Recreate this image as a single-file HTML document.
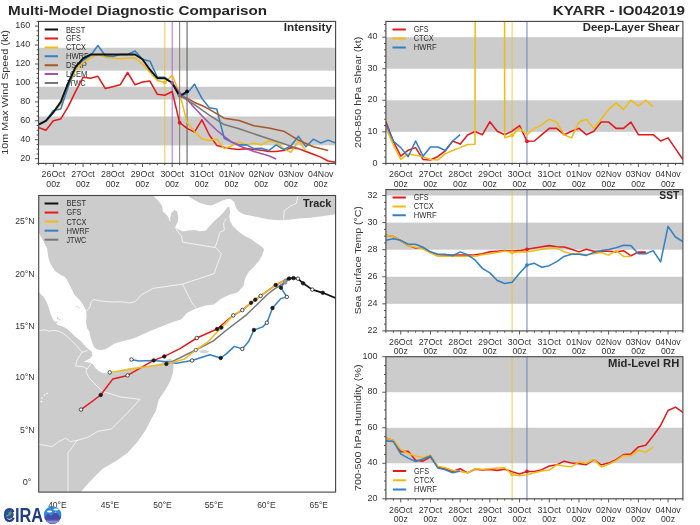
<!DOCTYPE html>
<html><head><meta charset="utf-8"><title>Multi-Model Diagnostic Comparison - KYARR IO042019</title>
<style>html,body{margin:0;padding:0;background:#fff}body{width:700px;height:525px;overflow:hidden}svg{display:block;will-change:transform}text{font-family:"Liberation Sans",sans-serif}</style></head><body>
<svg width="700" height="525" viewBox="0 0 700 525">
<rect width="700" height="525" fill="#fff"/>
<text x="8" y="14.6" font-size="13.4" text-anchor="start" textLength="259.13" lengthAdjust="spacingAndGlyphs" fill="#262626" font-weight="bold">Multi-Model Diagnostic Comparison</text>
<text x="685" y="14.6" font-size="13.4" text-anchor="end" textLength="132.11" lengthAdjust="spacingAndGlyphs" fill="#262626" font-weight="bold">KYARR - IO042019</text>
<clipPath id="c1"><rect x="38.5" y="21.4" width="297.1" height="142"/></clipPath>
<g clip-path="url(#c1)">
<rect x="38.5" y="116.45" width="297.1" height="28.97" fill="#cccccc"/>
<rect x="38.5" y="86.72" width="297.1" height="12.78" fill="#cccccc"/>
<rect x="38.5" y="47.72" width="297.1" height="22.91" fill="#cccccc"/>
<line x1="44.7" x2="58" y1="29.6" y2="29.6" stroke="#111111" stroke-width="2"/>
<text x="65.9" y="32.5" font-size="8.3" text-anchor="start" textLength="19.48" lengthAdjust="spacingAndGlyphs" fill="#2b2b2b">BEST</text>
<line x1="44.7" x2="58" y1="38.5" y2="38.5" stroke="#e41a1c" stroke-width="2"/>
<text x="65.9" y="41.4" font-size="8.3" text-anchor="start" textLength="14.95" lengthAdjust="spacingAndGlyphs" fill="#2b2b2b">GFS</text>
<line x1="44.7" x2="58" y1="47.4" y2="47.4" stroke="#f1bb17" stroke-width="2"/>
<text x="65.9" y="50.3" font-size="8.3" text-anchor="start" textLength="20.02" lengthAdjust="spacingAndGlyphs" fill="#2b2b2b">CTCX</text>
<line x1="44.7" x2="58" y1="56.3" y2="56.3" stroke="#3380c4" stroke-width="2"/>
<text x="65.9" y="59.2" font-size="8.3" text-anchor="start" textLength="22.88" lengthAdjust="spacingAndGlyphs" fill="#2b2b2b">HWRF</text>
<line x1="44.7" x2="58" y1="65.2" y2="65.2" stroke="#a65628" stroke-width="2"/>
<text x="65.9" y="68.1" font-size="8.3" text-anchor="start" textLength="20.97" lengthAdjust="spacingAndGlyphs" fill="#2b2b2b">DSHP</text>
<line x1="44.7" x2="58" y1="74.1" y2="74.1" stroke="#a452b6" stroke-width="2"/>
<text x="65.9" y="77" font-size="8.3" text-anchor="start" textLength="21.48" lengthAdjust="spacingAndGlyphs" fill="#2b2b2b">LGEM</text>
<line x1="44.7" x2="58" y1="83" y2="83" stroke="#777777" stroke-width="2"/>
<text x="65.9" y="85.9" font-size="8.3" text-anchor="start" textLength="19.71" lengthAdjust="spacingAndGlyphs" fill="#2b2b2b">JTWC</text>
<line x1="164.77" x2="164.77" y1="21.4" y2="163.4" stroke="#f1bb17" stroke-width="1.05" stroke-opacity="0.75"/>
<line x1="172.2" x2="172.2" y1="21.4" y2="163.4" stroke="#a452b6" stroke-width="1.05" stroke-opacity="0.75"/>
<line x1="179.62" x2="179.62" y1="21.4" y2="163.4" stroke="#8a6f66" stroke-width="1.05" stroke-opacity="0.9"/>
<line x1="187.05" x2="187.05" y1="21.4" y2="163.4" stroke="#555555" stroke-width="1.05" stroke-opacity="0.95"/>
<polyline points="38.5,127.43 45.93,130.27 53.36,120.8 60.78,118.91 68.21,106.6 75.64,91.45 83.06,77.25 90.49,78.2 97.92,76.31 105.35,88.61 112.78,86.72 120.2,84.83 127.63,72.52 135.06,84.83 142.49,81.99 149.91,81.04 157.34,94.29 164.77,95.24 172.2,91.45 179.62,122.69 187.05,128.37 194.48,132.16 201.91,119.85 209.33,135 216.76,145.41 224.19,147.31 231.62,148.73 239.04,149.58 246.47,148.63 253.9,149.58 261.33,150.15 268.75,151.47 276.18,151.47 283.61,150.53 291.03,147.69 298.46,148.63 305.89,151.47 313.32,154.31 320.75,157.15 328.17,160.94 335.6,162.26" fill="none" stroke="#e41a1c" stroke-width="1.55" stroke-linejoin="round" stroke-linecap="butt"/>
<polyline points="38.5,124.59 45.93,120.8 53.36,112.75 60.78,104.23 68.21,86.72 75.64,69.68 83.06,62.58 90.49,58.04 97.92,54.06 105.35,57.37 112.78,58.04 120.2,58.79 127.63,58.04 135.06,58.04 142.49,64 149.91,72.24 157.34,80.57 164.77,82.46 172.2,75.36 179.62,93.63 187.05,122.13 194.48,131.59 201.91,138.69 209.33,140.4 216.76,138.98 224.19,148.63 231.62,145.79 239.04,142.01 246.47,144.85 253.9,143.33 261.33,144.85 268.75,141.06 276.18,142.01 283.61,148.63 291.03,152.42 298.46,141.06 305.89,150.53" fill="none" stroke="#f1bb17" stroke-width="1.55" stroke-linejoin="round" stroke-linecap="butt"/>
<polyline points="38.5,124.59 45.93,120.8 53.36,110.39 60.78,109.06 68.21,86.72 75.64,66.37 83.06,60.4 90.49,55.67 97.92,45.45 105.35,55.67 112.78,56.43 120.2,54.53 127.63,54.53 135.06,50.94 142.49,59.27 149.91,61.16 157.34,77.25 164.77,77.25 172.2,82.93 179.62,96.19 187.05,93.63 194.48,84.16 201.91,98.36 209.33,107.83 216.76,109.06 224.19,138.22 231.62,142.01 239.04,144.85 246.47,144.85 253.9,148.63 261.33,148.25 268.75,150.53 276.18,144.85 283.61,149.58 291.03,145.79 298.46,136.33 305.89,146.74 313.32,139.17 320.75,142.95 328.17,140.11 335.6,142.95" fill="none" stroke="#3380c4" stroke-width="1.55" stroke-linejoin="round" stroke-linecap="butt"/>
<polyline points="179.62,96.19 187.05,98.08 194.48,102.43 201.91,105.46 209.33,109.44 224.19,118.15 239.04,120.52 253.9,125.82 268.75,128.09 283.61,131.21 298.46,140.11 313.32,146.74 328.17,150.53" fill="none" stroke="#a65628" stroke-width="1.55" stroke-linejoin="round" stroke-linecap="butt"/>
<polyline points="172.2,82.93 179.62,92.4 187.05,99.59 194.48,107.83 201.91,115.69 209.33,123.26 216.76,130.27 224.19,136.33 231.62,142.01 239.04,145.79 253.9,151.47 268.75,155.83 276.18,159.05" fill="none" stroke="#a452b6" stroke-width="1.55" stroke-linejoin="round" stroke-linecap="butt"/>
<polyline points="179.62,95.24 194.48,104.71 209.33,115.12 224.19,124.59 239.04,128.85 268.75,138.79 298.46,148.63" fill="none" stroke="#777777" stroke-width="1.55" stroke-linejoin="round" stroke-linecap="butt"/>
<polyline points="38.5,124.59 45.93,120.8 53.36,112.28 60.78,101.87 68.21,82.93 75.64,66.84 83.06,58.32 90.49,54.53 97.92,54.53 105.35,54.53 112.78,54.53 120.2,54.53 127.63,54.53 135.06,54.53 142.49,59.27 149.91,69.68 157.34,78.2 164.77,78.2 172.2,82.93 179.62,96.19 187.05,91.45" fill="none" stroke="#111111" stroke-width="1.9" stroke-linejoin="round" stroke-linecap="butt"/>
<circle cx="164.77" cy="82.46" r="1.9" fill="#f1bb17"/>
<circle cx="172.2" cy="82.93" r="1.9" fill="#a452b6"/>
<circle cx="179.62" cy="122.69" r="1.9" fill="#e41a1c"/>
<circle cx="179.62" cy="95.24" r="1.9" fill="#777777"/>
<circle cx="187.05" cy="91.45" r="1.9" fill="#111111"/>
</g>
<rect x="38.5" y="21.4" width="297.1" height="142" fill="none" stroke="#444444" stroke-width="1.1"/>
<path d="M38.5 163.4v1.9M45.93 163.4v1.9M53.36 163.4v3.6M60.78 163.4v1.9M68.21 163.4v1.9M75.64 163.4v1.9M83.06 163.4v3.6M90.49 163.4v1.9M97.92 163.4v1.9M105.35 163.4v1.9M112.78 163.4v3.6M120.2 163.4v1.9M127.63 163.4v1.9M135.06 163.4v1.9M142.49 163.4v3.6M149.91 163.4v1.9M157.34 163.4v1.9M164.77 163.4v1.9M172.2 163.4v3.6M179.62 163.4v1.9M187.05 163.4v1.9M194.48 163.4v1.9M201.91 163.4v3.6M209.33 163.4v1.9M216.76 163.4v1.9M224.19 163.4v1.9M231.62 163.4v3.6M239.04 163.4v1.9M246.47 163.4v1.9M253.9 163.4v1.9M261.33 163.4v3.6M268.75 163.4v1.9M276.18 163.4v1.9M283.61 163.4v1.9M291.03 163.4v3.6M298.46 163.4v1.9M305.89 163.4v1.9M313.32 163.4v1.9M320.75 163.4v3.6M328.17 163.4v1.9M335.6 163.4v1.9M38.5 158.67h-3.6M38.5 139.73h-3.6M38.5 120.8h-3.6M38.5 101.87h-3.6M38.5 82.93h-3.6M38.5 64h-3.6M38.5 45.07h-3.6M38.5 26.13h-3.6M38.5 163.4h-1.9M38.5 153.93h-1.9M38.5 149.2h-1.9M38.5 144.47h-1.9M38.5 135h-1.9M38.5 130.27h-1.9M38.5 125.53h-1.9M38.5 116.07h-1.9M38.5 111.33h-1.9M38.5 106.6h-1.9M38.5 97.13h-1.9M38.5 92.4h-1.9M38.5 87.67h-1.9M38.5 78.2h-1.9M38.5 73.47h-1.9M38.5 68.73h-1.9M38.5 59.27h-1.9M38.5 54.53h-1.9M38.5 49.8h-1.9M38.5 40.33h-1.9M38.5 35.6h-1.9M38.5 30.87h-1.9M38.5 21.4h-1.9" stroke="#444444" stroke-width="0.9" fill="none"/>
<text x="53.36" y="177.2" font-size="8.6" text-anchor="middle" textLength="23.56" lengthAdjust="spacingAndGlyphs" fill="#333333">26Oct</text>
<text x="53.36" y="186.5" font-size="8.6" text-anchor="middle" textLength="14.11" lengthAdjust="spacingAndGlyphs" fill="#333333">00z</text>
<text x="83.06" y="177.2" font-size="8.6" text-anchor="middle" textLength="23.56" lengthAdjust="spacingAndGlyphs" fill="#333333">27Oct</text>
<text x="83.06" y="186.5" font-size="8.6" text-anchor="middle" textLength="14.11" lengthAdjust="spacingAndGlyphs" fill="#333333">00z</text>
<text x="112.78" y="177.2" font-size="8.6" text-anchor="middle" textLength="23.56" lengthAdjust="spacingAndGlyphs" fill="#333333">28Oct</text>
<text x="112.78" y="186.5" font-size="8.6" text-anchor="middle" textLength="14.11" lengthAdjust="spacingAndGlyphs" fill="#333333">00z</text>
<text x="142.49" y="177.2" font-size="8.6" text-anchor="middle" textLength="23.56" lengthAdjust="spacingAndGlyphs" fill="#333333">29Oct</text>
<text x="142.49" y="186.5" font-size="8.6" text-anchor="middle" textLength="14.11" lengthAdjust="spacingAndGlyphs" fill="#333333">00z</text>
<text x="172.2" y="177.2" font-size="8.6" text-anchor="middle" textLength="23.56" lengthAdjust="spacingAndGlyphs" fill="#333333">30Oct</text>
<text x="172.2" y="186.5" font-size="8.6" text-anchor="middle" textLength="14.11" lengthAdjust="spacingAndGlyphs" fill="#333333">00z</text>
<text x="201.91" y="177.2" font-size="8.6" text-anchor="middle" textLength="23.56" lengthAdjust="spacingAndGlyphs" fill="#333333">31Oct</text>
<text x="201.91" y="186.5" font-size="8.6" text-anchor="middle" textLength="14.11" lengthAdjust="spacingAndGlyphs" fill="#333333">00z</text>
<text x="231.62" y="177.2" font-size="8.6" text-anchor="middle" textLength="25.31" lengthAdjust="spacingAndGlyphs" fill="#333333">01Nov</text>
<text x="231.62" y="186.5" font-size="8.6" text-anchor="middle" textLength="14.11" lengthAdjust="spacingAndGlyphs" fill="#333333">00z</text>
<text x="261.33" y="177.2" font-size="8.6" text-anchor="middle" textLength="25.31" lengthAdjust="spacingAndGlyphs" fill="#333333">02Nov</text>
<text x="261.33" y="186.5" font-size="8.6" text-anchor="middle" textLength="14.11" lengthAdjust="spacingAndGlyphs" fill="#333333">00z</text>
<text x="291.03" y="177.2" font-size="8.6" text-anchor="middle" textLength="25.31" lengthAdjust="spacingAndGlyphs" fill="#333333">03Nov</text>
<text x="291.03" y="186.5" font-size="8.6" text-anchor="middle" textLength="14.11" lengthAdjust="spacingAndGlyphs" fill="#333333">00z</text>
<text x="320.75" y="177.2" font-size="8.6" text-anchor="middle" textLength="25.31" lengthAdjust="spacingAndGlyphs" fill="#333333">04Nov</text>
<text x="320.75" y="186.5" font-size="8.6" text-anchor="middle" textLength="14.11" lengthAdjust="spacingAndGlyphs" fill="#333333">00z</text>
<text x="30.2" y="160.77" font-size="8.6" text-anchor="end" textLength="9.99" lengthAdjust="spacingAndGlyphs" fill="#333333">20</text>
<text x="30.2" y="141.83" font-size="8.6" text-anchor="end" textLength="9.99" lengthAdjust="spacingAndGlyphs" fill="#333333">40</text>
<text x="30.2" y="122.9" font-size="8.6" text-anchor="end" textLength="9.99" lengthAdjust="spacingAndGlyphs" fill="#333333">60</text>
<text x="30.2" y="103.97" font-size="8.6" text-anchor="end" textLength="9.99" lengthAdjust="spacingAndGlyphs" fill="#333333">80</text>
<text x="30.2" y="85.03" font-size="8.6" text-anchor="end" textLength="14.98" lengthAdjust="spacingAndGlyphs" fill="#333333">100</text>
<text x="30.2" y="66.1" font-size="8.6" text-anchor="end" textLength="14.98" lengthAdjust="spacingAndGlyphs" fill="#333333">120</text>
<text x="30.2" y="47.17" font-size="8.6" text-anchor="end" textLength="14.98" lengthAdjust="spacingAndGlyphs" fill="#333333">140</text>
<text x="30.2" y="28.23" font-size="8.6" text-anchor="end" textLength="14.98" lengthAdjust="spacingAndGlyphs" fill="#333333">160</text>
<text x="8.5" y="92.4" font-size="9.8" text-anchor="middle" textLength="124.66" lengthAdjust="spacingAndGlyphs" fill="#333333" transform="rotate(-90 8.5 92.4)">10m Max Wind Speed (kt)</text>
<text x="332" y="31.2" font-size="10.2" text-anchor="end" textLength="48.19" lengthAdjust="spacingAndGlyphs" fill="#262626" font-weight="bold">Intensity</text>
<clipPath id="c2"><rect x="385.9" y="21.4" width="297" height="142"/></clipPath>
<g clip-path="url(#c2)">
<rect x="385.9" y="100.29" width="297" height="31.56" fill="#cccccc"/>
<rect x="385.9" y="37.18" width="297" height="31.56" fill="#cccccc"/>
<line x1="392.5" x2="405.8" y1="29.5" y2="29.5" stroke="#e41a1c" stroke-width="2"/>
<text x="413.7" y="32.4" font-size="8.3" text-anchor="start" textLength="14.95" lengthAdjust="spacingAndGlyphs" fill="#2b2b2b">GFS</text>
<line x1="392.5" x2="405.8" y1="38.5" y2="38.5" stroke="#f1bb17" stroke-width="2"/>
<text x="413.7" y="41.4" font-size="8.3" text-anchor="start" textLength="20.02" lengthAdjust="spacingAndGlyphs" fill="#2b2b2b">CTCX</text>
<line x1="392.5" x2="405.8" y1="47.5" y2="47.5" stroke="#3380c4" stroke-width="2"/>
<text x="413.7" y="50.4" font-size="8.3" text-anchor="start" textLength="22.88" lengthAdjust="spacingAndGlyphs" fill="#2b2b2b">HWRF</text>
<line x1="512.12" x2="512.12" y1="21.4" y2="163.4" stroke="#f1bb17" stroke-width="1.05" stroke-opacity="0.7"/>
<line x1="526.97" x2="526.97" y1="21.4" y2="163.4" stroke="#6f86b8" stroke-width="1.05" stroke-opacity="0.95"/>
<polyline points="385.9,121.75 393.32,141.31 400.75,156.14 408.17,150.15 415.6,147.62 423.02,159.46 430.45,159.93 437.88,156.46 445.3,150.78 452.72,141 460.15,144.15 467.57,135 475,131.53 482.42,134.68 489.85,121.75 497.27,131.21 504.7,134.68 512.12,131.21 519.55,125.53 526.97,141.31 534.4,141 541.83,134.68 549.25,128.37 556.67,128.37 564.1,134.68 571.52,131.21 578.95,128.37 586.38,134.68 593.8,131.21 601.22,122.06 608.65,122.06 616.08,128.37 623.5,128.37 630.92,122.06 638.35,134.68 645.77,134.68 653.2,134.68 660.62,141 668.05,137.84 675.47,148.57 682.9,159.61" fill="none" stroke="#e41a1c" stroke-width="1.55" stroke-linejoin="round" stroke-linecap="butt"/>
<polyline points="385.9,128.06 393.32,144.78 400.75,159.46 408.17,153.93 415.6,155.2 423.02,156.77 430.45,159.46 437.88,159.93 445.3,153.62 452.72,150.46 460.15,147.62 467.57,144.47 475,144.15 475.19,-25.93 504.51,-25.93 504.7,137.84 512.12,135.32 519.55,128.37 526.97,134.68 534.4,128.37 541.83,124.9 549.25,119.22 556.67,122.06 564.1,134.68 571.52,137.84 578.95,122.06 586.38,119.22 593.8,128.37 601.22,119.22 608.65,109.44 616.08,103.13 623.5,109.44 630.92,100.29 638.35,105.97 645.77,100.29 653.2,106.6" fill="none" stroke="#f1bb17" stroke-width="1.55" stroke-linejoin="round" stroke-linecap="butt"/>
<polyline points="385.9,124.27 393.32,141 400.75,147.62 408.17,156.77 415.6,141 423.02,156.14 430.45,146.99 437.88,146.99 445.3,150.46 452.72,141 460.15,134.68" fill="none" stroke="#3380c4" stroke-width="1.55" stroke-linejoin="round" stroke-linecap="butt"/>
<circle cx="512.12" cy="135.32" r="1.9" fill="#f1bb17"/>
<circle cx="526.97" cy="141.31" r="1.9" fill="#e41a1c"/>
</g>
<rect x="385.9" y="21.4" width="297" height="142" fill="none" stroke="#444444" stroke-width="1.1"/>
<path d="M385.9 163.4v1.9M393.32 163.4v1.9M400.75 163.4v3.6M408.17 163.4v1.9M415.6 163.4v1.9M423.02 163.4v1.9M430.45 163.4v3.6M437.88 163.4v1.9M445.3 163.4v1.9M452.72 163.4v1.9M460.15 163.4v3.6M467.57 163.4v1.9M475 163.4v1.9M482.42 163.4v1.9M489.85 163.4v3.6M497.27 163.4v1.9M504.7 163.4v1.9M512.12 163.4v1.9M519.55 163.4v3.6M526.97 163.4v1.9M534.4 163.4v1.9M541.83 163.4v1.9M549.25 163.4v3.6M556.67 163.4v1.9M564.1 163.4v1.9M571.52 163.4v1.9M578.95 163.4v3.6M586.38 163.4v1.9M593.8 163.4v1.9M601.22 163.4v1.9M608.65 163.4v3.6M616.08 163.4v1.9M623.5 163.4v1.9M630.92 163.4v1.9M638.35 163.4v3.6M645.77 163.4v1.9M653.2 163.4v1.9M660.62 163.4v1.9M668.05 163.4v3.6M675.47 163.4v1.9M682.9 163.4v1.9M385.9 163.4h-3.6M385.9 131.84h-3.6M385.9 100.29h-3.6M385.9 68.73h-3.6M385.9 37.18h-3.6M385.9 157.09h-1.9M385.9 150.78h-1.9M385.9 144.47h-1.9M385.9 138.16h-1.9M385.9 125.53h-1.9M385.9 119.22h-1.9M385.9 112.91h-1.9M385.9 106.6h-1.9M385.9 93.98h-1.9M385.9 87.67h-1.9M385.9 81.36h-1.9M385.9 75.04h-1.9M385.9 62.42h-1.9M385.9 56.11h-1.9M385.9 49.8h-1.9M385.9 43.49h-1.9M385.9 30.87h-1.9M385.9 24.56h-1.9" stroke="#444444" stroke-width="0.9" fill="none"/>
<text x="400.75" y="177.2" font-size="8.6" text-anchor="middle" textLength="23.56" lengthAdjust="spacingAndGlyphs" fill="#333333">26Oct</text>
<text x="400.75" y="186.5" font-size="8.6" text-anchor="middle" textLength="14.11" lengthAdjust="spacingAndGlyphs" fill="#333333">00z</text>
<text x="430.45" y="177.2" font-size="8.6" text-anchor="middle" textLength="23.56" lengthAdjust="spacingAndGlyphs" fill="#333333">27Oct</text>
<text x="430.45" y="186.5" font-size="8.6" text-anchor="middle" textLength="14.11" lengthAdjust="spacingAndGlyphs" fill="#333333">00z</text>
<text x="460.15" y="177.2" font-size="8.6" text-anchor="middle" textLength="23.56" lengthAdjust="spacingAndGlyphs" fill="#333333">28Oct</text>
<text x="460.15" y="186.5" font-size="8.6" text-anchor="middle" textLength="14.11" lengthAdjust="spacingAndGlyphs" fill="#333333">00z</text>
<text x="489.85" y="177.2" font-size="8.6" text-anchor="middle" textLength="23.56" lengthAdjust="spacingAndGlyphs" fill="#333333">29Oct</text>
<text x="489.85" y="186.5" font-size="8.6" text-anchor="middle" textLength="14.11" lengthAdjust="spacingAndGlyphs" fill="#333333">00z</text>
<text x="519.55" y="177.2" font-size="8.6" text-anchor="middle" textLength="23.56" lengthAdjust="spacingAndGlyphs" fill="#333333">30Oct</text>
<text x="519.55" y="186.5" font-size="8.6" text-anchor="middle" textLength="14.11" lengthAdjust="spacingAndGlyphs" fill="#333333">00z</text>
<text x="549.25" y="177.2" font-size="8.6" text-anchor="middle" textLength="23.56" lengthAdjust="spacingAndGlyphs" fill="#333333">31Oct</text>
<text x="549.25" y="186.5" font-size="8.6" text-anchor="middle" textLength="14.11" lengthAdjust="spacingAndGlyphs" fill="#333333">00z</text>
<text x="578.95" y="177.2" font-size="8.6" text-anchor="middle" textLength="25.31" lengthAdjust="spacingAndGlyphs" fill="#333333">01Nov</text>
<text x="578.95" y="186.5" font-size="8.6" text-anchor="middle" textLength="14.11" lengthAdjust="spacingAndGlyphs" fill="#333333">00z</text>
<text x="608.65" y="177.2" font-size="8.6" text-anchor="middle" textLength="25.31" lengthAdjust="spacingAndGlyphs" fill="#333333">02Nov</text>
<text x="608.65" y="186.5" font-size="8.6" text-anchor="middle" textLength="14.11" lengthAdjust="spacingAndGlyphs" fill="#333333">00z</text>
<text x="638.35" y="177.2" font-size="8.6" text-anchor="middle" textLength="25.31" lengthAdjust="spacingAndGlyphs" fill="#333333">03Nov</text>
<text x="638.35" y="186.5" font-size="8.6" text-anchor="middle" textLength="14.11" lengthAdjust="spacingAndGlyphs" fill="#333333">00z</text>
<text x="668.05" y="177.2" font-size="8.6" text-anchor="middle" textLength="25.31" lengthAdjust="spacingAndGlyphs" fill="#333333">04Nov</text>
<text x="668.05" y="186.5" font-size="8.6" text-anchor="middle" textLength="14.11" lengthAdjust="spacingAndGlyphs" fill="#333333">00z</text>
<text x="377.6" y="165.5" font-size="8.6" text-anchor="end" textLength="4.99" lengthAdjust="spacingAndGlyphs" fill="#333333">0</text>
<text x="377.6" y="133.94" font-size="8.6" text-anchor="end" textLength="9.99" lengthAdjust="spacingAndGlyphs" fill="#333333">10</text>
<text x="377.6" y="102.39" font-size="8.6" text-anchor="end" textLength="9.99" lengthAdjust="spacingAndGlyphs" fill="#333333">20</text>
<text x="377.6" y="70.83" font-size="8.6" text-anchor="end" textLength="9.99" lengthAdjust="spacingAndGlyphs" fill="#333333">30</text>
<text x="377.6" y="39.28" font-size="8.6" text-anchor="end" textLength="9.99" lengthAdjust="spacingAndGlyphs" fill="#333333">40</text>
<text x="361.4" y="92.4" font-size="9.8" text-anchor="middle" textLength="111.32" lengthAdjust="spacingAndGlyphs" fill="#333333" transform="rotate(-90 361.4 92.4)">200-850 hPa Shear (kt)</text>
<text x="679.3" y="31.2" font-size="10.2" text-anchor="end" textLength="96.47" lengthAdjust="spacingAndGlyphs" fill="#262626" font-weight="bold">Deep-Layer Shear</text>
<clipPath id="c3"><rect x="385.9" y="189.6" width="297" height="141.3"/></clipPath>
<g clip-path="url(#c3)">
<rect x="385.9" y="276.76" width="297" height="27.07" fill="#cccccc"/>
<rect x="385.9" y="222.62" width="297" height="27.07" fill="#cccccc"/>
<rect x="385.9" y="182.02" width="297" height="13.53" fill="#cccccc"/>
<line x1="392.5" x2="405.8" y1="197.5" y2="197.5" stroke="#e41a1c" stroke-width="2"/>
<text x="413.7" y="200.4" font-size="8.3" text-anchor="start" textLength="14.95" lengthAdjust="spacingAndGlyphs" fill="#2b2b2b">GFS</text>
<line x1="392.5" x2="405.8" y1="206.4" y2="206.4" stroke="#f1bb17" stroke-width="2"/>
<text x="413.7" y="209.3" font-size="8.3" text-anchor="start" textLength="20.02" lengthAdjust="spacingAndGlyphs" fill="#2b2b2b">CTCX</text>
<line x1="392.5" x2="405.8" y1="215.3" y2="215.3" stroke="#3380c4" stroke-width="2"/>
<text x="413.7" y="218.2" font-size="8.3" text-anchor="start" textLength="22.88" lengthAdjust="spacingAndGlyphs" fill="#2b2b2b">HWRF</text>
<line x1="512.12" x2="512.12" y1="189.6" y2="330.9" stroke="#f1bb17" stroke-width="1.05" stroke-opacity="0.7"/>
<line x1="526.97" x2="526.97" y1="189.6" y2="330.9" stroke="#6f86b8" stroke-width="1.05" stroke-opacity="0.95"/>
<polyline points="385.9,235.21 393.32,236.43 400.75,240.76 408.17,245.63 415.6,247.93 423.02,248.34 430.45,252.4 437.88,254.84 445.3,255.11 452.72,255.11 460.15,255.11 467.57,255.11 475,254.84 482.42,253.75 489.85,251.86 497.27,251.32 504.7,250.64 512.12,251.05 519.55,250.64 526.97,249.29 534.4,247.93 541.83,246.72 549.25,245.63 556.67,246.72 564.1,246.99 571.52,249.29 578.95,251.86 586.38,249.29 593.8,251.18 601.22,251.18 608.65,251.18 616.08,251.86 623.5,250.64 630.92,255.78 638.35,252.13 645.77,252.13" fill="none" stroke="#e41a1c" stroke-width="1.55" stroke-linejoin="round" stroke-linecap="butt"/>
<polyline points="385.9,235.21 393.32,236.43 400.75,240.76 408.17,245.63 415.6,247.26 423.02,249.02 430.45,252.81 437.88,256.19 445.3,256.19 452.72,256.19 460.15,256.19 467.57,256.19 475,256.19 482.42,254.84 489.85,253.75 497.27,252.4 504.7,251.05 512.12,252.4 519.55,251.86 526.97,251.86 534.4,250.64 541.83,249.29 549.25,248.34 556.67,247.93 564.1,251.86 571.52,253.75 578.95,253.75 586.38,254.84 593.8,253.62 601.22,252.4 608.65,255.11 616.08,250.64 623.5,256.46 630.92,256.46" fill="none" stroke="#f1bb17" stroke-width="1.55" stroke-linejoin="round" stroke-linecap="butt"/>
<polyline points="385.9,240.35 393.32,238.73 400.75,240.35 408.17,244.28 415.6,244.28 423.02,247.26 430.45,251.86 437.88,254.16 445.3,254.16 452.72,255.78 460.15,251.86 467.57,254.84 475,259.98 482.42,268.37 489.85,272.84 497.27,280.55 504.7,283.53 512.12,282.18 519.55,273.24 526.97,265.12 534.4,263.36 541.83,267.29 549.25,265.66 556.67,261.6 564.1,256.46 571.52,254.16 578.95,254.16 586.38,255.38 593.8,252.4 601.22,250.64 608.65,249.56 616.08,247.8 623.5,245.23 630.92,245.63 638.35,253.75 645.77,253.75 653.2,250.64 660.62,261.87 668.05,226.41 675.47,236.97 682.9,241.57" fill="none" stroke="#3380c4" stroke-width="1.55" stroke-linejoin="round" stroke-linecap="butt"/>
<circle cx="512.12" cy="252.4" r="1.9" fill="#f1bb17"/>
<circle cx="526.97" cy="249.29" r="1.9" fill="#e41a1c"/>
<circle cx="526.97" cy="265.12" r="1.9" fill="#3380c4"/>
</g>
<rect x="385.9" y="189.6" width="297" height="141.3" fill="none" stroke="#444444" stroke-width="1.1"/>
<path d="M385.9 330.9v1.9M393.32 330.9v1.9M400.75 330.9v3.6M408.17 330.9v1.9M415.6 330.9v1.9M423.02 330.9v1.9M430.45 330.9v3.6M437.88 330.9v1.9M445.3 330.9v1.9M452.72 330.9v1.9M460.15 330.9v3.6M467.57 330.9v1.9M475 330.9v1.9M482.42 330.9v1.9M489.85 330.9v3.6M497.27 330.9v1.9M504.7 330.9v1.9M512.12 330.9v1.9M519.55 330.9v3.6M526.97 330.9v1.9M534.4 330.9v1.9M541.83 330.9v1.9M549.25 330.9v3.6M556.67 330.9v1.9M564.1 330.9v1.9M571.52 330.9v1.9M578.95 330.9v3.6M586.38 330.9v1.9M593.8 330.9v1.9M601.22 330.9v1.9M608.65 330.9v3.6M616.08 330.9v1.9M623.5 330.9v1.9M630.92 330.9v1.9M638.35 330.9v3.6M645.77 330.9v1.9M653.2 330.9v1.9M660.62 330.9v1.9M668.05 330.9v3.6M675.47 330.9v1.9M682.9 330.9v1.9M385.9 330.9h-3.6M385.9 303.83h-3.6M385.9 276.76h-3.6M385.9 249.69h-3.6M385.9 222.62h-3.6M385.9 195.56h-3.6M385.9 324.13h-1.9M385.9 317.37h-1.9M385.9 310.6h-1.9M385.9 297.06h-1.9M385.9 290.3h-1.9M385.9 283.53h-1.9M385.9 269.99h-1.9M385.9 263.23h-1.9M385.9 256.46h-1.9M385.9 242.93h-1.9M385.9 236.16h-1.9M385.9 229.39h-1.9M385.9 215.86h-1.9M385.9 209.09h-1.9M385.9 202.32h-1.9" stroke="#444444" stroke-width="0.9" fill="none"/>
<text x="400.75" y="344.7" font-size="8.6" text-anchor="middle" textLength="23.56" lengthAdjust="spacingAndGlyphs" fill="#333333">26Oct</text>
<text x="400.75" y="354" font-size="8.6" text-anchor="middle" textLength="14.11" lengthAdjust="spacingAndGlyphs" fill="#333333">00z</text>
<text x="430.45" y="344.7" font-size="8.6" text-anchor="middle" textLength="23.56" lengthAdjust="spacingAndGlyphs" fill="#333333">27Oct</text>
<text x="430.45" y="354" font-size="8.6" text-anchor="middle" textLength="14.11" lengthAdjust="spacingAndGlyphs" fill="#333333">00z</text>
<text x="460.15" y="344.7" font-size="8.6" text-anchor="middle" textLength="23.56" lengthAdjust="spacingAndGlyphs" fill="#333333">28Oct</text>
<text x="460.15" y="354" font-size="8.6" text-anchor="middle" textLength="14.11" lengthAdjust="spacingAndGlyphs" fill="#333333">00z</text>
<text x="489.85" y="344.7" font-size="8.6" text-anchor="middle" textLength="23.56" lengthAdjust="spacingAndGlyphs" fill="#333333">29Oct</text>
<text x="489.85" y="354" font-size="8.6" text-anchor="middle" textLength="14.11" lengthAdjust="spacingAndGlyphs" fill="#333333">00z</text>
<text x="519.55" y="344.7" font-size="8.6" text-anchor="middle" textLength="23.56" lengthAdjust="spacingAndGlyphs" fill="#333333">30Oct</text>
<text x="519.55" y="354" font-size="8.6" text-anchor="middle" textLength="14.11" lengthAdjust="spacingAndGlyphs" fill="#333333">00z</text>
<text x="549.25" y="344.7" font-size="8.6" text-anchor="middle" textLength="23.56" lengthAdjust="spacingAndGlyphs" fill="#333333">31Oct</text>
<text x="549.25" y="354" font-size="8.6" text-anchor="middle" textLength="14.11" lengthAdjust="spacingAndGlyphs" fill="#333333">00z</text>
<text x="578.95" y="344.7" font-size="8.6" text-anchor="middle" textLength="25.31" lengthAdjust="spacingAndGlyphs" fill="#333333">01Nov</text>
<text x="578.95" y="354" font-size="8.6" text-anchor="middle" textLength="14.11" lengthAdjust="spacingAndGlyphs" fill="#333333">00z</text>
<text x="608.65" y="344.7" font-size="8.6" text-anchor="middle" textLength="25.31" lengthAdjust="spacingAndGlyphs" fill="#333333">02Nov</text>
<text x="608.65" y="354" font-size="8.6" text-anchor="middle" textLength="14.11" lengthAdjust="spacingAndGlyphs" fill="#333333">00z</text>
<text x="638.35" y="344.7" font-size="8.6" text-anchor="middle" textLength="25.31" lengthAdjust="spacingAndGlyphs" fill="#333333">03Nov</text>
<text x="638.35" y="354" font-size="8.6" text-anchor="middle" textLength="14.11" lengthAdjust="spacingAndGlyphs" fill="#333333">00z</text>
<text x="668.05" y="344.7" font-size="8.6" text-anchor="middle" textLength="25.31" lengthAdjust="spacingAndGlyphs" fill="#333333">04Nov</text>
<text x="668.05" y="354" font-size="8.6" text-anchor="middle" textLength="14.11" lengthAdjust="spacingAndGlyphs" fill="#333333">00z</text>
<text x="377.6" y="333" font-size="8.6" text-anchor="end" textLength="9.99" lengthAdjust="spacingAndGlyphs" fill="#333333">22</text>
<text x="377.6" y="305.93" font-size="8.6" text-anchor="end" textLength="9.99" lengthAdjust="spacingAndGlyphs" fill="#333333">24</text>
<text x="377.6" y="278.86" font-size="8.6" text-anchor="end" textLength="9.99" lengthAdjust="spacingAndGlyphs" fill="#333333">26</text>
<text x="377.6" y="251.79" font-size="8.6" text-anchor="end" textLength="9.99" lengthAdjust="spacingAndGlyphs" fill="#333333">28</text>
<text x="377.6" y="224.72" font-size="8.6" text-anchor="end" textLength="9.99" lengthAdjust="spacingAndGlyphs" fill="#333333">30</text>
<text x="377.6" y="197.66" font-size="8.6" text-anchor="end" textLength="9.99" lengthAdjust="spacingAndGlyphs" fill="#333333">32</text>
<text x="361.4" y="260.25" font-size="9.8" text-anchor="middle" textLength="108.19" lengthAdjust="spacingAndGlyphs" fill="#333333" transform="rotate(-90 361.4 260.25)">Sea Surface Temp (°C)</text>
<text x="679.3" y="199.4" font-size="10.2" text-anchor="end" textLength="19.95" lengthAdjust="spacingAndGlyphs" fill="#262626" font-weight="bold">SST</text>
<clipPath id="c4"><rect x="385.9" y="356.7" width="297" height="142.1"/></clipPath>
<g clip-path="url(#c4)">
<rect x="385.9" y="427.75" width="297" height="35.52" fill="#cccccc"/>
<rect x="385.9" y="356.7" width="297" height="35.53" fill="#cccccc"/>
<line x1="392.9" x2="406.2" y1="471.1" y2="471.1" stroke="#e41a1c" stroke-width="2"/>
<text x="414.1" y="474" font-size="8.3" text-anchor="start" textLength="14.95" lengthAdjust="spacingAndGlyphs" fill="#2b2b2b">GFS</text>
<line x1="392.9" x2="406.2" y1="480.25" y2="480.25" stroke="#f1bb17" stroke-width="2"/>
<text x="414.1" y="483.15" font-size="8.3" text-anchor="start" textLength="20.02" lengthAdjust="spacingAndGlyphs" fill="#2b2b2b">CTCX</text>
<line x1="392.9" x2="406.2" y1="489.4" y2="489.4" stroke="#3380c4" stroke-width="2"/>
<text x="414.1" y="492.3" font-size="8.3" text-anchor="start" textLength="22.88" lengthAdjust="spacingAndGlyphs" fill="#2b2b2b">HWRF</text>
<line x1="512.12" x2="512.12" y1="356.7" y2="498.8" stroke="#f1bb17" stroke-width="1.05" stroke-opacity="0.7"/>
<line x1="526.97" x2="526.97" y1="356.7" y2="498.8" stroke="#6f86b8" stroke-width="1.05" stroke-opacity="0.95"/>
<polyline points="385.9,438.05 393.32,440.54 400.75,451.73 408.17,451.37 415.6,460.26 423.02,461.14 430.45,456.88 437.88,467.18 445.3,468.78 452.72,471.45 460.15,468.78 467.57,472.87 475,469.31 482.42,470.02 489.85,469.49 497.27,470.38 504.7,469.31 512.12,471.8 519.55,473.93 526.97,471.45 534.4,471.45 541.83,469.67 549.25,465.94 556.67,464.87 564.1,461.14 571.52,462.92 578.95,463.63 586.38,464.7 593.8,459.72 601.22,464.87 608.65,463.1 616.08,459.72 623.5,454.57 630.92,454.04 638.35,446.93 645.77,445.16 653.2,435.74 660.62,425.44 668.05,410.52 675.47,407.15 682.9,412.3" fill="none" stroke="#e41a1c" stroke-width="1.55" stroke-linejoin="round" stroke-linecap="butt"/>
<polyline points="385.9,438.05 393.32,440.18 400.75,449.42 408.17,453.51 415.6,455.99 423.02,457.77 430.45,455.1 437.88,466.29 445.3,467.72 452.72,470.56 460.15,471.45 467.57,472.87 475,468.78 482.42,469.31 489.85,468.78 497.27,468.07 504.7,467.72 512.12,474.47 519.55,475.71 526.97,474.82 534.4,472.87 541.83,471.09 549.25,470.02 556.67,464.87 564.1,465.94 571.52,466.65 578.95,462.03 586.38,463.27 593.8,459.37 601.22,467.01 608.65,464.34 616.08,460.61 623.5,455.46 630.92,455.81 638.35,450.31 645.77,452.26 653.2,446.93" fill="none" stroke="#f1bb17" stroke-width="1.55" stroke-linejoin="round" stroke-linecap="butt"/>
<polyline points="385.9,440.89 393.32,441.43 400.75,453.86 408.17,458.12 415.6,461.5 423.02,459.01 430.45,455.99 437.88,468.07 445.3,469.67 452.72,472.87 460.15,471.09" fill="none" stroke="#3380c4" stroke-width="1.55" stroke-linejoin="round" stroke-linecap="butt"/>
<circle cx="512.12" cy="474.47" r="1.9" fill="#f1bb17"/>
<circle cx="526.97" cy="471.45" r="1.9" fill="#e41a1c"/>
</g>
<rect x="385.9" y="356.7" width="297" height="142.1" fill="none" stroke="#444444" stroke-width="1.1"/>
<path d="M385.9 498.8v1.9M393.32 498.8v1.9M400.75 498.8v3.6M408.17 498.8v1.9M415.6 498.8v1.9M423.02 498.8v1.9M430.45 498.8v3.6M437.88 498.8v1.9M445.3 498.8v1.9M452.72 498.8v1.9M460.15 498.8v3.6M467.57 498.8v1.9M475 498.8v1.9M482.42 498.8v1.9M489.85 498.8v3.6M497.27 498.8v1.9M504.7 498.8v1.9M512.12 498.8v1.9M519.55 498.8v3.6M526.97 498.8v1.9M534.4 498.8v1.9M541.83 498.8v1.9M549.25 498.8v3.6M556.67 498.8v1.9M564.1 498.8v1.9M571.52 498.8v1.9M578.95 498.8v3.6M586.38 498.8v1.9M593.8 498.8v1.9M601.22 498.8v1.9M608.65 498.8v3.6M616.08 498.8v1.9M623.5 498.8v1.9M630.92 498.8v1.9M638.35 498.8v3.6M645.77 498.8v1.9M653.2 498.8v1.9M660.62 498.8v1.9M668.05 498.8v3.6M675.47 498.8v1.9M682.9 498.8v1.9M385.9 498.8h-3.6M385.9 463.27h-3.6M385.9 427.75h-3.6M385.9 392.23h-3.6M385.9 356.7h-3.6M385.9 489.92h-1.9M385.9 481.04h-1.9M385.9 472.16h-1.9M385.9 454.39h-1.9M385.9 445.51h-1.9M385.9 436.63h-1.9M385.9 418.87h-1.9M385.9 409.99h-1.9M385.9 401.11h-1.9M385.9 383.34h-1.9M385.9 374.46h-1.9M385.9 365.58h-1.9" stroke="#444444" stroke-width="0.9" fill="none"/>
<text x="400.75" y="512.6" font-size="8.6" text-anchor="middle" textLength="23.56" lengthAdjust="spacingAndGlyphs" fill="#333333">26Oct</text>
<text x="400.75" y="521.9" font-size="8.6" text-anchor="middle" textLength="14.11" lengthAdjust="spacingAndGlyphs" fill="#333333">00z</text>
<text x="430.45" y="512.6" font-size="8.6" text-anchor="middle" textLength="23.56" lengthAdjust="spacingAndGlyphs" fill="#333333">27Oct</text>
<text x="430.45" y="521.9" font-size="8.6" text-anchor="middle" textLength="14.11" lengthAdjust="spacingAndGlyphs" fill="#333333">00z</text>
<text x="460.15" y="512.6" font-size="8.6" text-anchor="middle" textLength="23.56" lengthAdjust="spacingAndGlyphs" fill="#333333">28Oct</text>
<text x="460.15" y="521.9" font-size="8.6" text-anchor="middle" textLength="14.11" lengthAdjust="spacingAndGlyphs" fill="#333333">00z</text>
<text x="489.85" y="512.6" font-size="8.6" text-anchor="middle" textLength="23.56" lengthAdjust="spacingAndGlyphs" fill="#333333">29Oct</text>
<text x="489.85" y="521.9" font-size="8.6" text-anchor="middle" textLength="14.11" lengthAdjust="spacingAndGlyphs" fill="#333333">00z</text>
<text x="519.55" y="512.6" font-size="8.6" text-anchor="middle" textLength="23.56" lengthAdjust="spacingAndGlyphs" fill="#333333">30Oct</text>
<text x="519.55" y="521.9" font-size="8.6" text-anchor="middle" textLength="14.11" lengthAdjust="spacingAndGlyphs" fill="#333333">00z</text>
<text x="549.25" y="512.6" font-size="8.6" text-anchor="middle" textLength="23.56" lengthAdjust="spacingAndGlyphs" fill="#333333">31Oct</text>
<text x="549.25" y="521.9" font-size="8.6" text-anchor="middle" textLength="14.11" lengthAdjust="spacingAndGlyphs" fill="#333333">00z</text>
<text x="578.95" y="512.6" font-size="8.6" text-anchor="middle" textLength="25.31" lengthAdjust="spacingAndGlyphs" fill="#333333">01Nov</text>
<text x="578.95" y="521.9" font-size="8.6" text-anchor="middle" textLength="14.11" lengthAdjust="spacingAndGlyphs" fill="#333333">00z</text>
<text x="608.65" y="512.6" font-size="8.6" text-anchor="middle" textLength="25.31" lengthAdjust="spacingAndGlyphs" fill="#333333">02Nov</text>
<text x="608.65" y="521.9" font-size="8.6" text-anchor="middle" textLength="14.11" lengthAdjust="spacingAndGlyphs" fill="#333333">00z</text>
<text x="638.35" y="512.6" font-size="8.6" text-anchor="middle" textLength="25.31" lengthAdjust="spacingAndGlyphs" fill="#333333">03Nov</text>
<text x="638.35" y="521.9" font-size="8.6" text-anchor="middle" textLength="14.11" lengthAdjust="spacingAndGlyphs" fill="#333333">00z</text>
<text x="668.05" y="512.6" font-size="8.6" text-anchor="middle" textLength="25.31" lengthAdjust="spacingAndGlyphs" fill="#333333">04Nov</text>
<text x="668.05" y="521.9" font-size="8.6" text-anchor="middle" textLength="14.11" lengthAdjust="spacingAndGlyphs" fill="#333333">00z</text>
<text x="377.6" y="500.9" font-size="8.6" text-anchor="end" textLength="9.99" lengthAdjust="spacingAndGlyphs" fill="#333333">20</text>
<text x="377.6" y="465.38" font-size="8.6" text-anchor="end" textLength="9.99" lengthAdjust="spacingAndGlyphs" fill="#333333">40</text>
<text x="377.6" y="429.85" font-size="8.6" text-anchor="end" textLength="9.99" lengthAdjust="spacingAndGlyphs" fill="#333333">60</text>
<text x="377.6" y="394.33" font-size="8.6" text-anchor="end" textLength="9.99" lengthAdjust="spacingAndGlyphs" fill="#333333">80</text>
<text x="377.6" y="358.8" font-size="8.6" text-anchor="end" textLength="14.98" lengthAdjust="spacingAndGlyphs" fill="#333333">100</text>
<text x="361.4" y="427.75" font-size="9.8" text-anchor="middle" textLength="126.73" lengthAdjust="spacingAndGlyphs" fill="#333333" transform="rotate(-90 361.4 427.75)">700-500 hPa Humidity (%)</text>
<text x="679.3" y="366.5" font-size="10.2" text-anchor="end" textLength="71.16" lengthAdjust="spacingAndGlyphs" fill="#262626" font-weight="bold">Mid-Level RH</text>
<clipPath id="cm"><rect x="38.7" y="195.5" width="296.9" height="296.6"/></clipPath>
<g clip-path="url(#cm)">
<polygon points="30,190 154.3,190 154.3,197 158.6,200.9 162.1,205.9 162.9,211.6 165,213.5 167.9,216.6 170,221.6 170.6,221.5 170,218.7 171.4,213 174.3,209.9 177.1,211.6 178.3,217.3 177.9,221.6 175.7,225.9 175.4,227.6 178.6,229.4 182.9,231.6 188.6,230.4 194.3,230.1 200,231.3 205.7,230.4 208.6,227.3 212.9,222.3 218.6,217.3 222.9,213 226.4,208.7 227.6,207 229.4,206.8 230.2,211.6 229.3,215.9 230,220.9 232.9,225.9 238.6,231.5 244.3,235.7 250,238.6 255.3,242.2 261.6,246.4 264.1,249.6 262.7,253.8 259.5,260 254.3,266.3 251,269.5 249,271.6 245.9,276.8 244.5,281 243.8,285.2 238.6,291.5 236,293 228.7,295.1 220.3,299.3 214,304.5 205.6,305.6 195.1,308.7 186.8,312.9 181.5,319.2 172.1,322.3 161.6,326.5 151.4,330.6 142.9,334.3 137.1,337.1 130,339.6 126,340.3 119.7,342 114,343.7 110,346.6 106,348.9 101.4,350 96.9,349.4 94,347.1 92.3,343.1 90.6,337.4 89.4,331.7 87.1,328 86,322.3 86.6,316.6 86,310.3 83.1,304.6 79.1,299.4 74.6,294.9 71.1,288 67.1,280 64.6,276.7 60.8,274.9 55,271.1 50.3,263.5 48.4,257.8 47,248.2 43.6,241.6 38.9,233 30,228" fill="#cccccc"/>
<polygon points="189.3,190 189.3,197 194.3,200.1 200,203 207.1,205.1 211.4,205.6 217.1,203 221.4,200.9 227.1,199 230.7,199 234.3,202.3 235.7,207.3 238.6,211.6 244.3,214.4 250,215.6 257.4,217.1 267.9,219.2 278.4,220.2 288.9,219.8 299.3,218.6 309.8,217.7 320.3,216.5 330.8,215 340,213.5 340,190" fill="#cccccc"/>
<polygon points="30,284 38.6,292 39.7,293.1 43.7,297.1 47.1,302.9 49.4,309.7 51.1,315.4 54,321.1 57.4,325.1 62,326.3 66.6,328.6 71.1,332.6 75.7,337.1 80.9,340.9 84.9,346 88.9,349.4 91.7,351.7 92.5,355.1 90.6,358 86.6,360.3 83.7,361.8 88.9,362.6 92.9,363.9 95.1,367.7 98.6,371.1 102.6,372.9 108.3,373.4 114,372.3 120,370.4 127.1,368.6 137.1,367.1 148.6,365.7 160,363.6 165.7,360.7 170,358.6 172.9,360.7 173.6,367.1 172.9,372.9 170.7,380 167.1,387.1 161.4,395.7 158.6,400 156,410.7 151.4,418.7 145.7,430.1 137.7,441.6 127.4,453 116,461 102.3,469 90.9,480.4 81.7,490.7 78,500 30,500" fill="#cccccc"/>
<circle cx="77" cy="306.8" r="0.8" fill="#cccccc"/>
<circle cx="79" cy="307.9" r="0.7" fill="#cccccc"/>
<circle cx="57.8" cy="318.3" r="1" fill="#cccccc"/>
<circle cx="59.6" cy="319.8" r="0.8" fill="#cccccc"/>
<circle cx="56.2" cy="322.4" r="1.1" fill="#cccccc"/>
<circle cx="213" cy="203.6" r="0.9" fill="#cccccc"/>
<circle cx="216" cy="202.4" r="0.9" fill="#cccccc"/>
<ellipse cx="204" cy="351.6" rx="4.8" ry="1.7" fill="#d4d4d4"/>
<polyline points="86.6,310.9 90,306.9 91.1,301.7 94,299.4 98,300.6 102.7,301.1 112.2,302 121.7,301.7 129.3,303 135.4,301.5 141.7,294.6 153.2,288.3 182.6,284.1" fill="none" stroke="#f6f6f6" stroke-width="0.9" stroke-linejoin="round" stroke-linecap="round"/>
<polyline points="182.6,284.1 192,303 196.5,308.3" fill="none" stroke="#f6f6f6" stroke-width="0.9" stroke-linejoin="round" stroke-linecap="round"/>
<polyline points="182.6,284.1 214,273.7 221.3,253.8 216,247.6" fill="none" stroke="#f6f6f6" stroke-width="0.9" stroke-linejoin="round" stroke-linecap="round"/>
<polyline points="175.4,227.6 178,232 181.5,236 182.6,242.2 215,247.5 217.1,241.6 220,232.3 224.3,230.1 223.6,223.7 224.3,221.6 226,219" fill="none" stroke="#f6f6f6" stroke-width="0.9" stroke-linejoin="round" stroke-linecap="round"/>
<polyline points="283.6,219.2 284.2,210.8 291,205.6 296.2,203.5 298.3,195" fill="none" stroke="#f6f6f6" stroke-width="0.9" stroke-linejoin="round" stroke-linecap="round"/>
<polyline points="38.7,330.9 44.9,329.7 49.4,331.4 52.9,330.3 58,330.9 62.6,333.1 66.6,336 71.7,340.9 77.4,346.6 82,352.3 76.9,360.3 75.7,366 83.1,366.6 87.1,368.9 86,371.7 88.9,377.4 90.9,379.9" fill="none" stroke="#f6f6f6" stroke-width="0.9" stroke-linejoin="round" stroke-linecap="round"/>
<polyline points="82,352.3 87.1,350.6" fill="none" stroke="#f6f6f6" stroke-width="0.9" stroke-linejoin="round" stroke-linecap="round"/>
<polyline points="87.1,368.9 90.6,364.3" fill="none" stroke="#f6f6f6" stroke-width="0.9" stroke-linejoin="round" stroke-linecap="round"/>
<polyline points="90.9,379.9 102.3,391.3 120.6,397 140,399.3 127.4,413 111.4,429 97.7,431.3 88.6,437 77.1,440.4" fill="none" stroke="#f6f6f6" stroke-width="0.9" stroke-linejoin="round" stroke-linecap="round"/>
<polyline points="77.1,440.4 68,453 68,492" fill="none" stroke="#f6f6f6" stroke-width="0.9" stroke-linejoin="round" stroke-linecap="round"/>
<polyline points="77.1,440.4 70.3,441.6 65.7,438.1 58.9,441.6 52,446.6 38.7,444.3" fill="none" stroke="#f6f6f6" stroke-width="0.9" stroke-linejoin="round" stroke-linecap="round"/>
<circle cx="42" cy="398" r="0.8" fill="#fff"/>
<circle cx="44.5" cy="395" r="0.8" fill="#fff"/>
<circle cx="47" cy="393.5" r="0.8" fill="#fff"/>
<circle cx="41.5" cy="401.5" r="0.8" fill="#fff"/>
<polyline points="285.7,281.9 274.2,289.2 267.9,294 247,314.3 226,330.5 213,341.2 195.8,350 171,362.1 166.9,363.8" fill="none" stroke="#777777" stroke-width="1.5" stroke-linejoin="round" stroke-linecap="round"/>
<polyline points="288,279.5 285.5,281 280.9,287.7 286.8,296.9 280.9,298.6 272.5,308 266.9,322.7 262.7,326.9 253.9,330 248.6,341.6 242.3,348.9 234.4,346.4 226,354.1 220.7,358 209.8,354.8 192,360.5 176.3,363.2 166.9,361.7 153.6,360.4 138.6,361.1 131.5,359.5" fill="none" stroke="#3380c4" stroke-width="1.5" stroke-linejoin="round" stroke-linecap="round"/>
<polyline points="291,278.3 285.1,280.2 275.7,285 260.6,295.9 251.1,302.8 242.3,310.1 232.9,315.6 217.1,329 196.8,338 180,348.6 164.3,356.4 153.6,360.4 127.6,375.4 112.9,378.9 100.7,395 81,409.6" fill="none" stroke="#e41a1c" stroke-width="1.5" stroke-linejoin="round" stroke-linecap="round"/>
<polyline points="293.5,277.9 289,278.5 285.1,280.2 275.7,285 260.6,295.9 255.3,299.7 242.3,310.1 233.3,315.4 221.3,327.6 207.7,342.2 195.8,350 184.7,359 166.4,363.9 142.8,367.3 109.7,372.4" fill="none" stroke="#f1bb17" stroke-width="1.5" stroke-linejoin="round" stroke-linecap="round"/>
<polyline points="340,299.8 336,298.2 322.8,292.8 312.3,289.6 303.1,283.3 297.9,278.7 293.5,278.1 289,278.6 285.1,280.2" fill="none" stroke="#111111" stroke-width="1.75" stroke-linejoin="round" stroke-linecap="round"/>
<circle cx="322.8" cy="292.8" r="1.75" fill="#1a1a1a" stroke="#1a1a1a" stroke-width="0.75"/>
<circle cx="312.3" cy="289.6" r="1.75" fill="#fff" stroke="#1a1a1a" stroke-width="0.75"/>
<circle cx="303.1" cy="283.3" r="1.75" fill="#1a1a1a" stroke="#1a1a1a" stroke-width="0.75"/>
<circle cx="297.9" cy="278.7" r="1.75" fill="#fff" stroke="#1a1a1a" stroke-width="0.75"/>
<circle cx="293.5" cy="278.1" r="1.75" fill="#1a1a1a" stroke="#1a1a1a" stroke-width="0.75"/>
<circle cx="280.9" cy="287.7" r="1.75" fill="#1a1a1a" stroke="#1a1a1a" stroke-width="0.75"/>
<circle cx="286.8" cy="296.9" r="1.75" fill="#fff" stroke="#1a1a1a" stroke-width="0.75"/>
<circle cx="272.5" cy="308" r="1.75" fill="#1a1a1a" stroke="#1a1a1a" stroke-width="0.75"/>
<circle cx="266.9" cy="322.7" r="1.75" fill="#fff" stroke="#1a1a1a" stroke-width="0.75"/>
<circle cx="253.9" cy="330" r="1.75" fill="#1a1a1a" stroke="#1a1a1a" stroke-width="0.75"/>
<circle cx="242.3" cy="348.9" r="1.75" fill="#fff" stroke="#1a1a1a" stroke-width="0.75"/>
<circle cx="220.7" cy="358" r="1.75" fill="#1a1a1a" stroke="#1a1a1a" stroke-width="0.75"/>
<circle cx="192" cy="360.5" r="1.75" fill="#fff" stroke="#1a1a1a" stroke-width="0.75"/>
<circle cx="153.6" cy="360.4" r="1.75" fill="#1a1a1a" stroke="#1a1a1a" stroke-width="0.75"/>
<circle cx="131.5" cy="359.5" r="1.75" fill="#fff" stroke="#1a1a1a" stroke-width="0.75"/>
<circle cx="275.7" cy="285" r="1.75" fill="#1a1a1a" stroke="#1a1a1a" stroke-width="0.75"/>
<circle cx="260.6" cy="295.9" r="1.75" fill="#fff" stroke="#1a1a1a" stroke-width="0.75"/>
<circle cx="255.3" cy="299.7" r="1.75" fill="#1a1a1a" stroke="#1a1a1a" stroke-width="0.75"/>
<circle cx="251.1" cy="302.8" r="1.75" fill="#1a1a1a" stroke="#1a1a1a" stroke-width="0.75"/>
<circle cx="242.3" cy="310.1" r="1.75" fill="#fff" stroke="#1a1a1a" stroke-width="0.75"/>
<circle cx="233.3" cy="315.4" r="1.75" fill="#fff" stroke="#1a1a1a" stroke-width="0.75"/>
<circle cx="217.1" cy="329" r="1.75" fill="#1a1a1a" stroke="#1a1a1a" stroke-width="0.75"/>
<circle cx="221.3" cy="327.6" r="1.75" fill="#1a1a1a" stroke="#1a1a1a" stroke-width="0.75"/>
<circle cx="196.8" cy="338" r="1.75" fill="#fff" stroke="#1a1a1a" stroke-width="0.75"/>
<circle cx="164.3" cy="356.4" r="1.75" fill="#1a1a1a" stroke="#1a1a1a" stroke-width="0.75"/>
<circle cx="127.6" cy="375.4" r="1.75" fill="#fff" stroke="#1a1a1a" stroke-width="0.75"/>
<circle cx="100.7" cy="395" r="1.75" fill="#1a1a1a" stroke="#1a1a1a" stroke-width="0.75"/>
<circle cx="81" cy="409.6" r="1.75" fill="#fff" stroke="#1a1a1a" stroke-width="0.75"/>
<circle cx="166.4" cy="363.9" r="1.75" fill="#1a1a1a" stroke="#1a1a1a" stroke-width="0.75"/>
<circle cx="109.7" cy="372.4" r="1.75" fill="#fff" stroke="#1a1a1a" stroke-width="0.75"/>
<circle cx="289" cy="278.6" r="1.75" fill="#1a1a1a" stroke="#1a1a1a" stroke-width="0.75"/>
<circle cx="195.8" cy="350" r="1.75" fill="#f4f4f4" stroke="#4a4a4a" stroke-width="0.75"/>
<ellipse cx="285.3" cy="281.5" rx="1.9" ry="2.700" fill="#999" stroke="#777" stroke-width="0.6"/>
</g>
<rect x="38.7" y="195.5" width="296.9" height="296.6" fill="none" stroke="#444444" stroke-width="1.1"/>
<line x1="44.6" x2="58.3" y1="203.5" y2="203.5" stroke="#111111" stroke-width="2"/>
<text x="66.5" y="206.4" font-size="8.3" text-anchor="start" textLength="19.48" lengthAdjust="spacingAndGlyphs" fill="#2b2b2b">BEST</text>
<line x1="44.6" x2="58.3" y1="212.55" y2="212.55" stroke="#e41a1c" stroke-width="2"/>
<text x="66.5" y="215.45" font-size="8.3" text-anchor="start" textLength="14.95" lengthAdjust="spacingAndGlyphs" fill="#2b2b2b">GFS</text>
<line x1="44.6" x2="58.3" y1="221.6" y2="221.6" stroke="#f1bb17" stroke-width="2"/>
<text x="66.5" y="224.5" font-size="8.3" text-anchor="start" textLength="20.02" lengthAdjust="spacingAndGlyphs" fill="#2b2b2b">CTCX</text>
<line x1="44.6" x2="58.3" y1="230.65" y2="230.65" stroke="#3380c4" stroke-width="2"/>
<text x="66.5" y="233.55" font-size="8.3" text-anchor="start" textLength="22.88" lengthAdjust="spacingAndGlyphs" fill="#2b2b2b">HWRF</text>
<line x1="44.6" x2="58.3" y1="239.7" y2="239.7" stroke="#777777" stroke-width="2"/>
<text x="66.5" y="242.6" font-size="8.3" text-anchor="start" textLength="19.71" lengthAdjust="spacingAndGlyphs" fill="#2b2b2b">JTWC</text>
<text x="331.4" y="207.2" font-size="10.2" text-anchor="end" textLength="28.48" lengthAdjust="spacingAndGlyphs" fill="#262626" font-weight="bold">Track</text>
<text x="57.4" y="508.3" font-size="8.5" text-anchor="middle" textLength="18.51" lengthAdjust="spacingAndGlyphs" fill="#333333">40°E</text>
<text x="110" y="508.3" font-size="8.5" text-anchor="middle" textLength="18.51" lengthAdjust="spacingAndGlyphs" fill="#333333">45°E</text>
<text x="162.5" y="508.3" font-size="8.5" text-anchor="middle" textLength="18.51" lengthAdjust="spacingAndGlyphs" fill="#333333">50°E</text>
<text x="213.9" y="508.3" font-size="8.5" text-anchor="middle" textLength="18.51" lengthAdjust="spacingAndGlyphs" fill="#333333">55°E</text>
<text x="266.4" y="508.3" font-size="8.5" text-anchor="middle" textLength="18.51" lengthAdjust="spacingAndGlyphs" fill="#333333">60°E</text>
<text x="318.7" y="508.3" font-size="8.5" text-anchor="middle" textLength="18.51" lengthAdjust="spacingAndGlyphs" fill="#333333">65°E</text>
<text x="34.6" y="224.3" font-size="8.5" text-anchor="end" textLength="19.41" lengthAdjust="spacingAndGlyphs" fill="#333333">25°N</text>
<text x="34.6" y="276.5" font-size="8.5" text-anchor="end" textLength="19.41" lengthAdjust="spacingAndGlyphs" fill="#333333">20°N</text>
<text x="34.6" y="328.5" font-size="8.5" text-anchor="end" textLength="19.41" lengthAdjust="spacingAndGlyphs" fill="#333333">15°N</text>
<text x="34.6" y="380.1" font-size="8.5" text-anchor="end" textLength="19.41" lengthAdjust="spacingAndGlyphs" fill="#333333">10°N</text>
<text x="34.6" y="432.9" font-size="8.5" text-anchor="end" textLength="14.51" lengthAdjust="spacingAndGlyphs" fill="#333333">5°N</text>
<text x="31.5" y="484.8" font-size="8.5" text-anchor="end" textLength="8.75" lengthAdjust="spacingAndGlyphs" fill="#333333">0°</text>
<defs><linearGradient id="cg" x1="0" y1="0" x2="1" y2="1"><stop offset="0" stop-color="#2a4f9c"/><stop offset="1" stop-color="#16306e"/></linearGradient><clipPath id="cl"><circle cx="52.6" cy="515" r="8.7"/></clipPath></defs>
<text x="3.2" y="521.7" font-size="20" font-weight="bold" textLength="40" lengthAdjust="spacingAndGlyphs" fill="url(#cg)">CIRA</text>
<circle cx="9.3" cy="514.5" r="4.4" fill="#2c508f"/><ellipse cx="9.8" cy="513.6" rx="1.7" ry="2.2" fill="#5f8f7a" transform="rotate(25 9.8 513.6)"/><ellipse cx="7.6" cy="515.8" rx="1.2" ry="0.8" fill="#7fa2cf"/>
<g clip-path="url(#cl)"><rect x="43" y="505" width="20" height="20" fill="#2b8ad6"/><polygon points="43,519 48,513.5 51,516 55.5,511.5 60,516.5 63,515 63,525 43,525" fill="#4a4aa6"/><rect x="43" y="519.5" width="20" height="6" fill="#5b5fc0" opacity="0.8"/><polygon points="54.3,512.7 55.5,511.5 56.8,512.9 55.6,512.5" fill="#e8ecff"/><path d="M45 521.300h15M46 522.800h13" stroke="#dfe3ff" stroke-width="0.5"/><ellipse cx="49.5" cy="511.5" rx="2.6" ry="0.9" fill="#fff"/><ellipse cx="56" cy="509.6" rx="2.8" ry="1" fill="#fff"/></g>
</svg></body></html>
